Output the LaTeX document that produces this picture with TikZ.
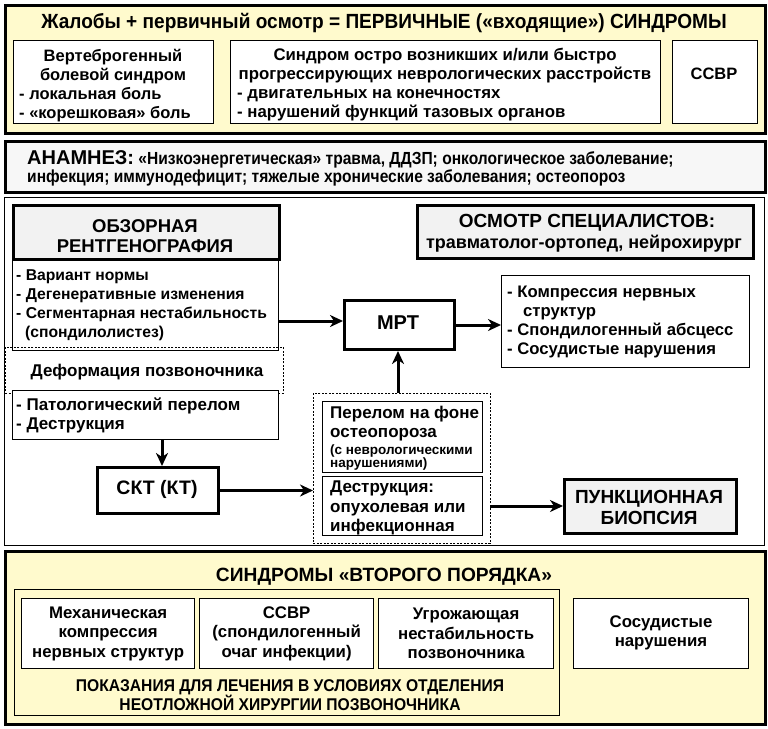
\documentclass[tikz,border=0pt]{standalone}
\usepackage{fontspec}
\setmainfont{Liberation Sans}
\newfontfamily\condA[FakeStretch=0.93]{Liberation Sans}
\newfontfamily\condB[FakeStretch=0.89]{Liberation Sans}
\newfontfamily\condC[FakeStretch=0.92]{Liberation Sans}
\usetikzlibrary{arrows.meta}
\definecolor{yel}{RGB}{255,250,205}
\definecolor{lg}{RGB}{242,242,242}
\definecolor{ag}{RGB}{247,247,247}
\newcommand{\myfs}[2]{\fontsize{#1}{#2}\selectfont}
\tikzset{
  panel/.style={draw, line width=3pt, anchor=north west, inner sep=0pt},
  thinbox/.style={draw, line width=1.3pt, fill=white, anchor=north west, inner sep=0pt},
  thickbox/.style={draw, line width=3pt, fill=lg, anchor=north west, inner sep=0pt},
  dashbox/.style={draw, dash pattern=on 2pt off 1.5pt, line width=0.8pt, anchor=north west, inner sep=0pt},
  txt/.style={inner sep=0pt, font=\bfseries},
  lt/.style={txt, anchor=base west},
  ct/.style={txt, anchor=base},
  fa/.style={font=\bfseries\myfs{16.5}{19}},
  fb/.style={font=\bfseries\myfs{16.8}{19}},
  fc/.style={font=\bfseries\myfs{15.7}{19}},
  fd/.style={font=\bfseries\myfs{17}{19}},
  fe/.style={font=\bfseries\myfs{16.7}{19}},
  fsm/.style={font=\bfseries\myfs{13.5}{13.5}},
  fan/.style={font=\condB\bfseries\myfs{17.5}{18.5}},
  arr/.style={line width=3pt, -{Stealth[length=13pt,width=12pt,inset=4pt]}},
}
\begin{document}
\begin{tikzpicture}[x=1pt,y=-1pt]
\useasboundingbox (0,0) rectangle (768,728);
\fill[white] (0,0) rectangle (768,728);

% ---------- top panel ----------
\node[panel, fill=yel, minimum width=760, minimum height=128] (top) at (4,4) {};
\node[txt, font=\condA\bfseries\myfs{20.5}{24}] (ttl) at (384,23) {Жалобы + первичный осмотр = ПЕРВИЧНЫЕ («входящие») СИНДРОМЫ};
\node[thinbox, minimum width=200, minimum height=83] (b1) at (13,40) {};
\node[thinbox, minimum width=430, minimum height=83] (b2) at (230,40) {};
\node[thinbox, minimum width=85, minimum height=83] (b3) at (672,40) {};
\node[ct, fa] (b1a) at (113,61) {Вертеброгенный};
\node[ct, fa] (b1b) at (113,80.5) {болевой синдром};
\node[lt, fa] (b1c) at (19,99.5) {- локальная боль};
\node[lt, fa] (b1d) at (19,118) {- «корешковая» боль};
\node[ct, fa] (b3a) at (714,79.5) {ССВР};
\node[ct, fb] (b2a) at (445,60.5) {Синдром остро возникших и/или быстро};
\node[ct, fb] (b2b) at (445,79.5) {прогрессирующих неврологических расстройств};
\node[lt, fb] (b2c) at (237,98.5) {- двигательных на конечностях};
\node[lt, fb] (b2d) at (237,117.5) {- нарушений функций тазовых органов};

% ---------- anamnesis ----------
\node[panel, fill=ag, minimum width=760, minimum height=51] (anam) at (4,140) {};
\node[lt, fan] (anam1) at (27,164.5) {{\normalfont\bfseries\myfs{20}{18.5}АНАМНЕЗ:} «Низкоэнергетическая» травма, ДДЗП; онкологическое заболевание;};
\node[lt, fan] (anam2) at (27,182) {инфекция; иммунодефицит; тяжелые хронические заболевания; остеопороз};

% ---------- middle panel ----------
\node[draw, line width=1.3pt, fill=white, anchor=north west, inner sep=0pt, minimum width=760, minimum height=348] (mid) at (4,197) {};

\node[thinbox, minimum width=266, minimum height=92] (l1) at (12,258) {};
\node[thickbox, minimum width=266, minimum height=54] (rtg) at (12,204) {};
\node[txt, align=center, font=\bfseries\myfs{18.5}{20.5}] (rtgt) at (145,236) {ОБЗОРНАЯ\\РЕНТГЕНОГРАФИЯ};
\node[lt, fc] (l1a) at (16,280) {- Вариант нормы};
\node[lt, fc] (l1b) at (16,299) {- Дегенеративные изменения};
\node[lt, fc] (l1c) at (16,318) {- Сегментарная нестабильность};
\node[lt, fc] (l1d) at (25,337) {(спондилолистез)};

\node[dashbox, minimum width=278, minimum height=46] (def) at (5,347) {};
\node[txt, fd] (deft) at (147,372) {Деформация позвоночника};

\node[thinbox, minimum width=266, minimum height=49] (l2) at (12,390) {};
\node[lt, fd] (l2a) at (16,410) {- Патологический перелом};
\node[lt, fd] (l2b) at (16,429) {- Деструкция};

\node[thickbox, minimum width=336, minimum height=53] (spec) at (416,204) {};
\node[txt, font=\bfseries\myfs{19}{21}] (spect1) at (587,223) {ОСМОТР СПЕЦИАЛИСТОВ:};
\node[txt, font=\bfseries\myfs{18}{19}] (spect2) at (584,244) {травматолог-ортопед, нейрохирург};

\node[thickbox, fill=white, minimum width=110, minimum height=49] (mrt) at (343,299) {};
\node[txt, font=\bfseries\myfs{20}{21}] (mrtt) at (398,323) {МРТ};

\node[thinbox, minimum width=248, minimum height=92] (res) at (501,275) {};
\node[lt, fe] (resa) at (507,297) {- Компрессия нервных};
\node[lt, fe] (resb) at (523,316) {структур};
\node[lt, fe] (resc) at (507,335) {- Спондилогенный абсцесс};
\node[lt, fe] (resd) at (507,354) {- Сосудистые нарушения};

\node[thickbox, fill=white, minimum width=121, minimum height=46] (skt) at (96,466) {};
\node[txt, font=\bfseries\myfs{19.5}{21}] (sktt) at (157,489) {СКТ (КТ)};

\node[dashbox, minimum width=177, minimum height=150] (grp) at (313,393) {};
\node[thinbox, minimum width=160, minimum height=71] (g1) at (322,401) {};
\node[thinbox, minimum width=160, minimum height=59] (g2) at (322,476) {};
\node[lt, fd] (g1a) at (330,418) {Перелом на фоне};
\node[lt, fd] (g1b) at (330,437) {остеопороза};
\node[lt, fsm] (g1c) at (330,454) {(с неврологическими};
\node[lt, fsm] (g1d) at (330,467) {нарушениями)};
\node[lt, fd] (g2a) at (330,492.5) {Деструкция:};
\node[lt, fd] (g2b) at (330,512) {опухолевая или};
\node[lt, fd] (g2c) at (330,531) {инфекционная};

\node[thickbox, minimum width=172, minimum height=54] (bio) at (563,478) {};
\node[txt, align=center, font=\bfseries\myfs{19}{21}] (biot) at (649,507) {ПУНКЦИОННАЯ\\БИОПСИЯ};

\coordinate (l1out) at (278,321);
\coordinate (l2out) at (162,439);
\draw[arr] (l1out) -- (mrt.west |- l1out);
\draw[arr] (mrt.east) -- (res.west |- mrt.east);
\draw[arr] (grp.north -| mrtt) -- (mrt.south -| mrtt);
\draw[arr] (l2out) -- (skt.north -| l2out);
\draw[arr] (skt.east) -- (grp.west |- skt.east);
\coordinate (grpout) at (490,506);
\draw[arr] (grpout) -- (bio.west |- grpout);

% ---------- bottom panel ----------
\node[panel, fill=yel, minimum width=760, minimum height=173] (bot) at (4,550) {};
\node[txt, font=\bfseries\myfs{19.2}{22}] (bott) at (384,577) {СИНДРОМЫ «ВТОРОГО ПОРЯДКА»};
\node[draw, line width=1pt, anchor=north west, inner sep=0pt, minimum width=545, minimum height=126] (ind) at (14,589) {};
\node[thinbox, minimum width=173, minimum height=70] (s1) at (21,598) {};
\node[thinbox, minimum width=174, minimum height=70] (s2) at (199,598) {};
\node[thinbox, minimum width=175, minimum height=70] (s3) at (378,598) {};
\node[thinbox, minimum width=175, minimum height=70] (s4) at (573,598) {};
\node[txt, align=center, font=\bfseries\myfs{16.8}{19.5}] (s1t) at (s1.center) {Механическая\\компрессия\\нервных структур};
\node[txt, align=center, font=\bfseries\myfs{16.8}{19.5}] (s2t) at (s2.center) {ССВР\\(спондилогенный\\очаг инфекции)};
\node[txt, align=center, font=\bfseries\myfs{16.8}{19.5}] (s3t) at (s3.center) {Угрожающая\\нестабильность\\позвоночника};
\node[txt, align=center, font=\bfseries\myfs{16.8}{19.5}] (s4t) at (661,633) {Сосудистые\\нарушения};
\node[txt, align=center, font=\condC\bfseries\myfs{17}{19}] (indt) at (290,695) {ПОКАЗАНИЯ ДЛЯ ЛЕЧЕНИЯ В УСЛОВИЯХ ОТДЕЛЕНИЯ\\НЕОТЛОЖНОЙ ХИРУРГИИ ПОЗВОНОЧНИКА};
\end{tikzpicture}
\end{document}
